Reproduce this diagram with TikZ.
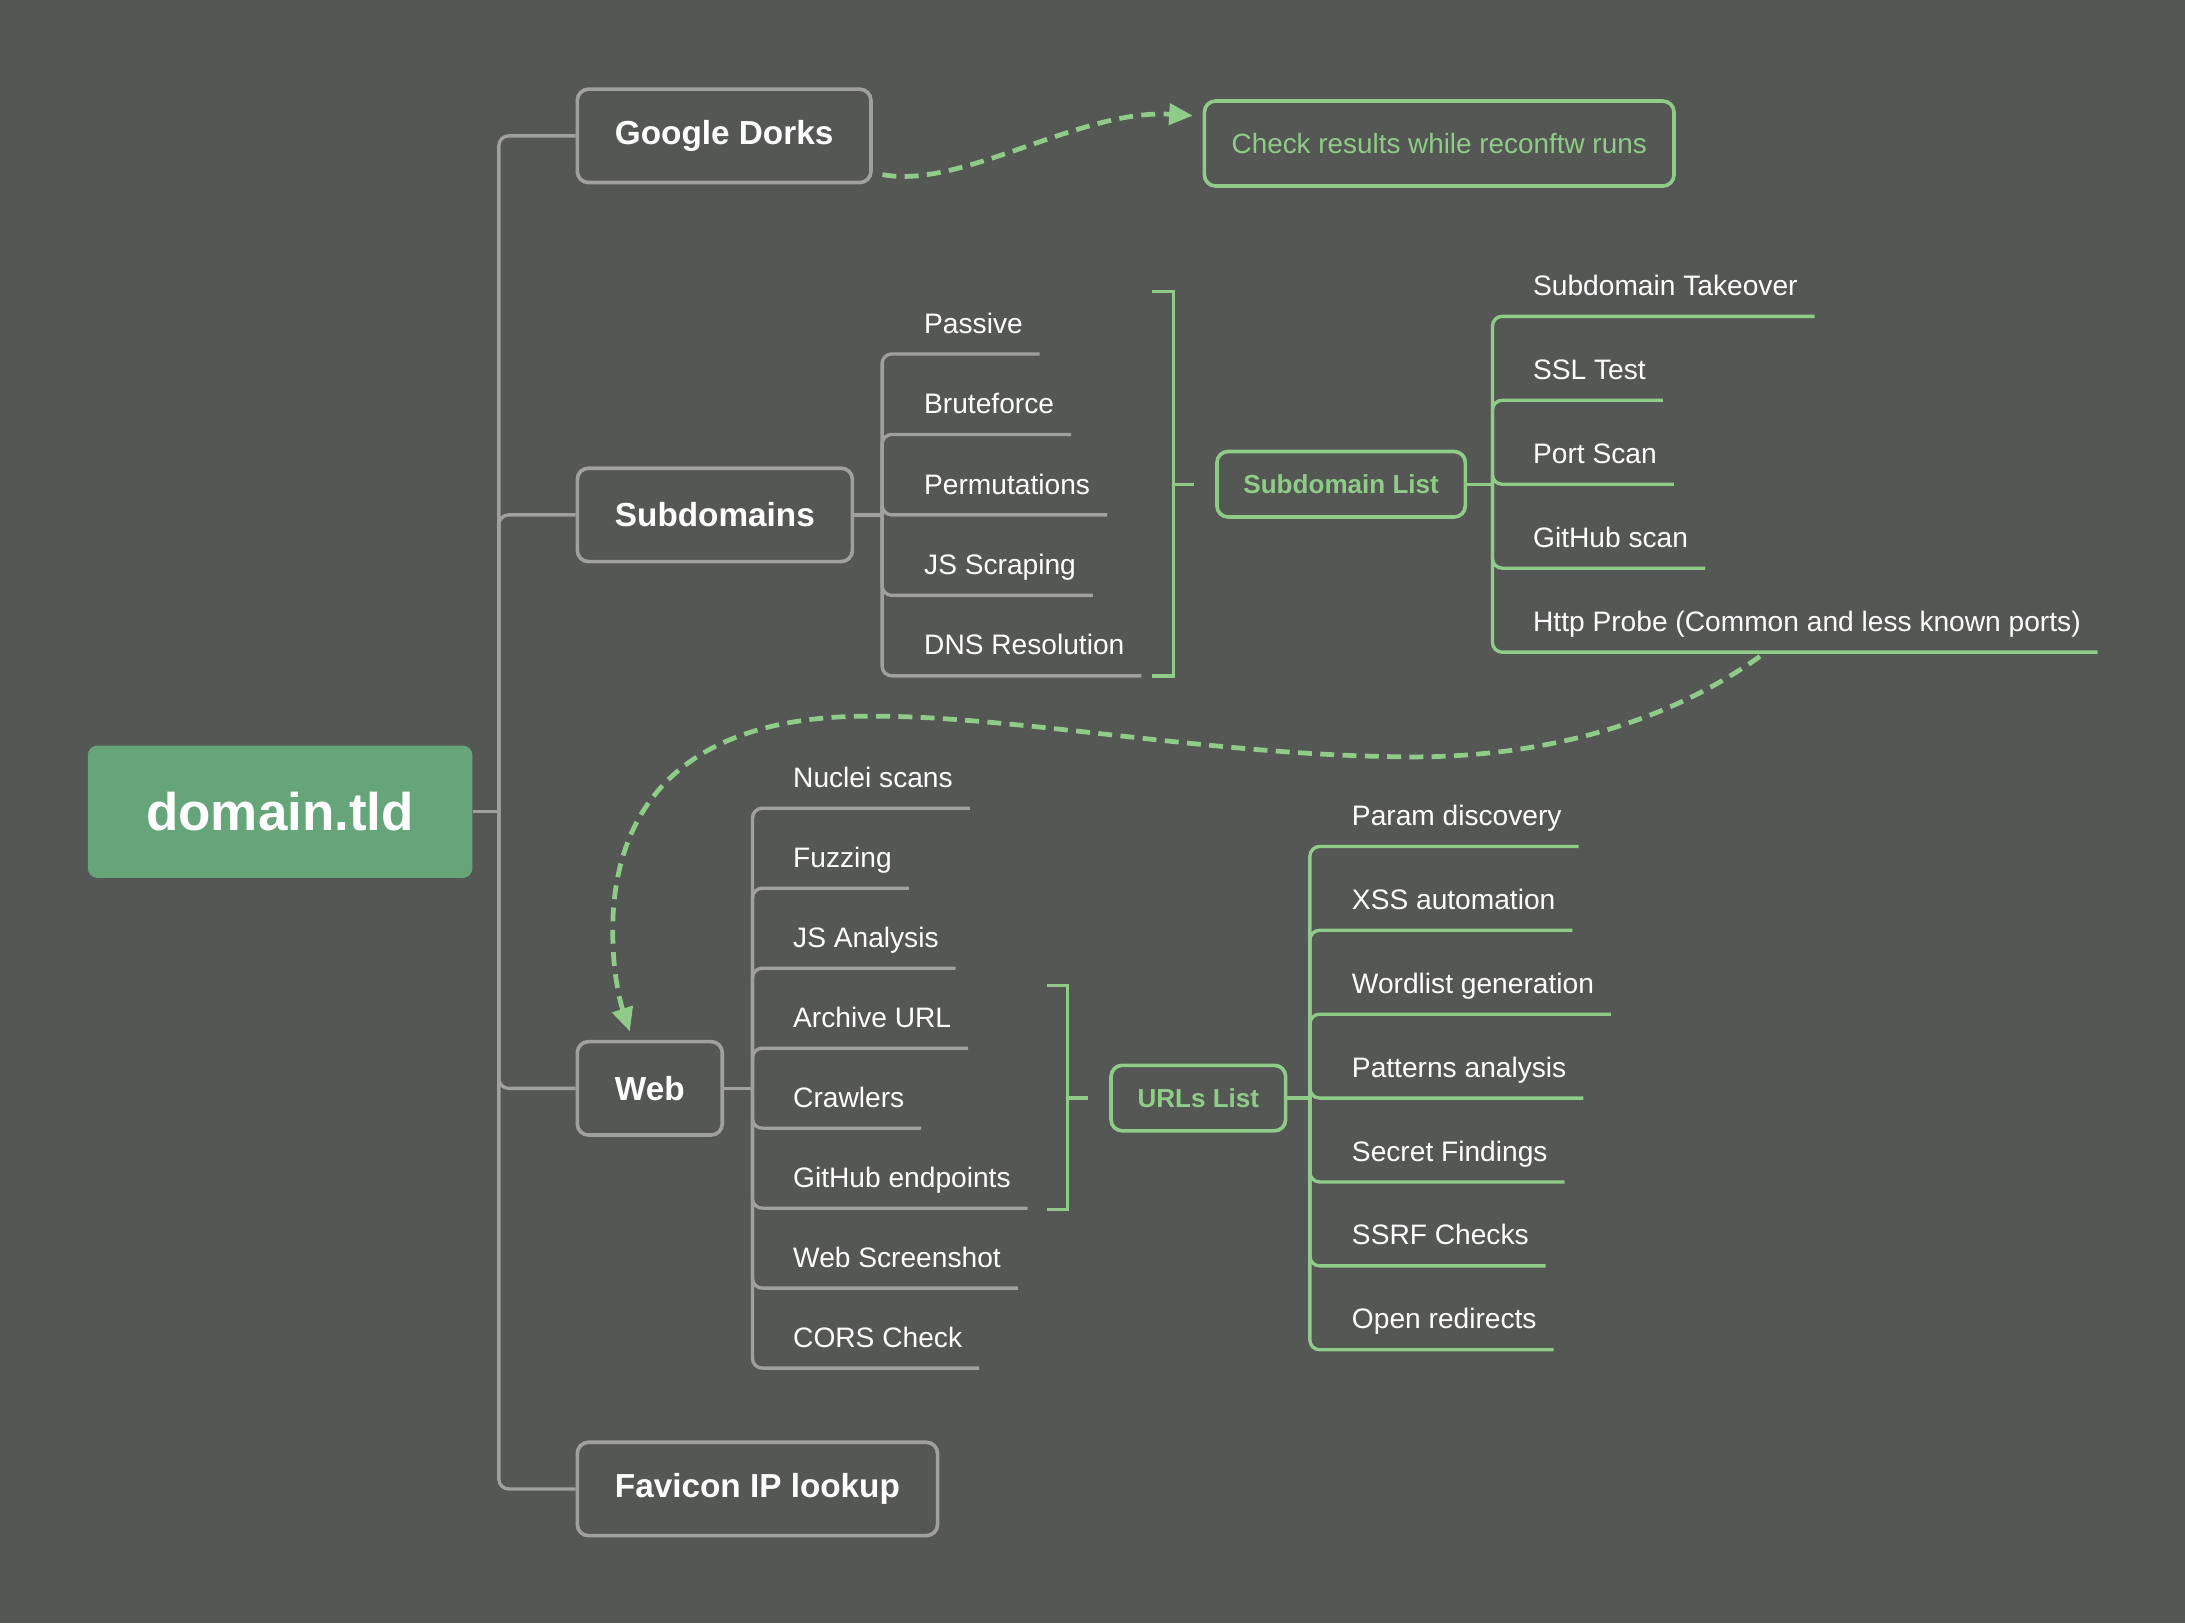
\documentclass[tikz,border=0pt]{standalone}
\usepackage{fontspec}
\setmainfont{Liberation Sans}
\usetikzlibrary{arrows.meta,calc}
\definecolor{bgc}{HTML}{555754}
\definecolor{gcol}{HTML}{A0A09E}
\definecolor{grn}{HTML}{8FCC88}
\definecolor{rootfill}{HTML}{66A47A}
\tikzset{
  gln/.style={draw=gcol, line width=2.4pt, rounded corners=7pt},
  grln/.style={draw=grn, line width=2.4pt, rounded corners=7pt},
  brk/.style={draw=grn, line width=2.4pt},
  lbl/.style={text=white, font=\fontsize{20.2}{24}\selectfont, inner sep=0pt, anchor=base west},
  gbox/.style={draw=gcol, line width=2.6pt, rounded corners=8pt, text=white,
    font=\bfseries\fontsize{23.9}{29}\selectfont, minimum height=67pt, inner xsep=27pt, anchor=west},
  grbox/.style={draw=grn, line width=2.6pt, rounded corners=8pt, text=grn,
    font=\bfseries\fontsize{18.7}{23}\selectfont, minimum height=47pt, inner xsep=19pt, anchor=west},
  dsh/.style={draw=grn, line width=3.4pt, dash pattern=on 10pt off 6pt,
    -{Triangle[length=17pt,width=15pt]}},
}
\begin{document}
\begin{tikzpicture}[x=1pt,y=-1pt]
\fill[bgc] (0,0) rectangle (1568,1165);
\useasboundingbox (0,0) rectangle (1568,1165);

% root
\node[fill=rootfill, rounded corners=7pt, minimum width=276pt, minimum height=95pt,
  text=white, font=\bfseries\fontsize{38}{46}\selectfont] (root) at (201,582.5) {domain.tld};

% level 1
\node[gbox] (gd)  at (413,97.5) {Google Dorks};
\node[gbox] (sub) at (413,369.5) {Subdomains};
\node[gbox] (web) at (413,781)  {Web};
\node[gbox] (fav) at (413,1068.5) {Favicon IP lookup};

\coordinate (tbus) at (358,582.5);
\draw[gln] (root.east) -- (tbus);
\foreach \n in {gd,sub,web,fav} { \draw[gln] (tbus) |- (\n.west); }

% Google dorks -> check
\node[grbox, minimum height=61pt, minimum width=337pt, inner xsep=17pt, align=left,
  font=\fontsize{20}{24}\selectfont] (check) at (863,103) {Check results while reconftw runs};
\draw[dsh] ($(gd.south east)+(7,-7)$) .. controls (690,136) and (775,78) .. ($(check.west)+(-7,-20)$);

% Subdomains children
\coordinate (sbus) at (633,369.5);
\draw[gln] (sub.east) -- (sbus);
\foreach \n/\t/\u in {p1/Passive/254, p2/Bruteforce/311.75, p3/Permutations/369.5, p4/JS Scraping/427.25, p5/DNS Resolution/485} {
  \node[lbl] (\n) at (663,\u-15) {\t};
  \draw[gln] (sbus) |- ($(\n.base east)+(12,15)$);
}
\draw[brk] (827,209) -- (842,209) -- (842,485) -- (827,485);
\node[grbox] (slist) at (872,347.5) {Subdomain List};
\draw[brk] (842,347.5) -- ($(slist.west)+(-15,0)$);

% Subdomain list children
\coordinate (lbus) at (1071,347.5);
\draw[grln] (slist.east) -- (lbus);
\foreach \n/\t/\u in {s1/Subdomain Takeover/227, s2/SSL Test/287.25, s3/Port Scan/347.5, s4/GitHub scan/407.75, s5/Http Probe (Common and less known ports)/468} {
  \node[lbl] (\n) at (1100,\u-15) {\t};
  \draw[grln] (lbus) |- ($(\n.base east)+(12,15)$);
}

% Web children
\coordinate (wbus) at (540,781);
\draw[gln] (web.east) -- (wbus);
\foreach \n/\t/\u in {w1/Nuclei scans/580, w2/Fuzzing/637.4, w3/JS Analysis/694.8, w4/Archive URL/752.2, w5/Crawlers/809.6, w6/GitHub endpoints/867, w7/Web Screenshot/924.4, w8/CORS Check/981.8} {
  \node[lbl] (\n) at (569,\u-15) {\t};
  \draw[gln] (wbus) |- ($(\n.base east)+(12,15)$);
}
\draw[brk] (751,707) -- (766,707) -- (766,868) -- (751,868);
\node[grbox] (urls) at (796,788) {URLs List};
\draw[brk] (766,788) -- ($(urls.west)+(-15,0)$);

% URLs children
\coordinate (ubus) at (940,788);
\draw[grln] (urls.east) -- (ubus);
\foreach \n/\t/\u in {u1/Param discovery/607.4, u2/XSS automation/667.6, u3/Wordlist generation/727.8, u4/Patterns analysis/788, u5/Secret Findings/848.2, u6/SSRF Checks/908.4, u7/Open redirects/968.6} {
  \node[lbl] (\n) at (970,\u-15) {\t};
  \draw[grln] (ubus) |- ($(\n.base east)+(12,15)$);
}

% long dashed arrow: Http probe -> Web
\coordinate (hp) at (1263,471);
\draw[dsh] (hp) .. controls (1180,530) and (1080,545) .. (1000,543)
  .. controls (860,541) and (720,512) .. (615,514)
  .. controls (470,517) and (436,600) .. (440,680)
  .. controls (441,705) and (446,722) .. ($(web.north west)+(39,-6)$);
\end{tikzpicture}
\end{document}
